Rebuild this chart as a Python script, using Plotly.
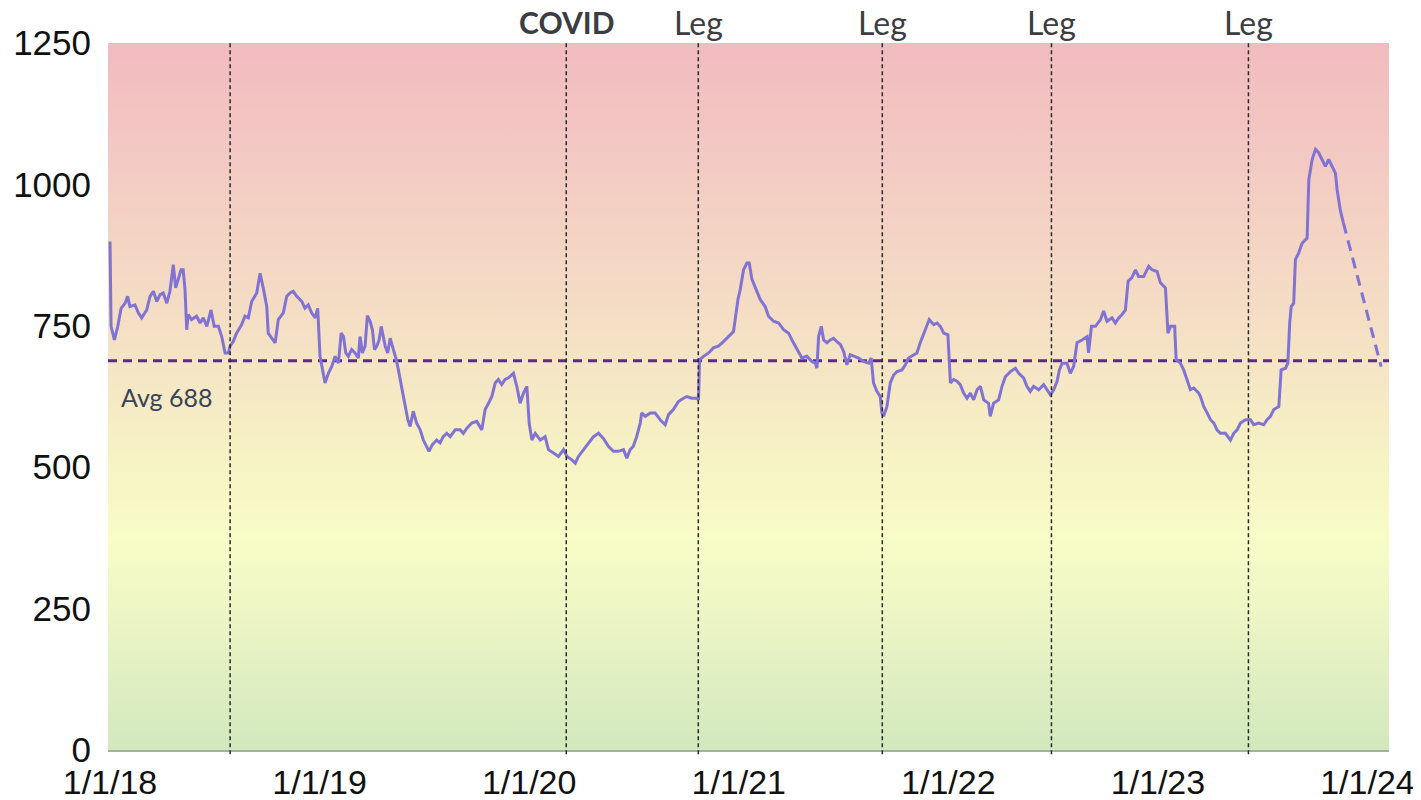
import pandas as pd
import plotly.graph_objects as go

# ---- data (decimal year, value) ----
years = [
    2018.000, 2018.005, 2018.021, 2018.037, 2018.053, 2018.072, 2018.084, 2018.095, 2018.119, 2018.135,
    2018.151, 2018.175, 2018.191, 2018.207, 2018.223, 2018.239, 2018.254, 2018.271, 2018.286, 2018.302,
    2018.313, 2018.326, 2018.339, 2018.349, 2018.358, 2018.366, 2018.373, 2018.389, 2018.413, 2018.430,
    2018.445, 2018.462, 2018.482, 2018.497, 2018.517, 2018.533, 2018.549, 2018.565, 2018.573, 2018.588,
    2018.604, 2018.628, 2018.644, 2018.660, 2018.676, 2018.700, 2018.716, 2018.731, 2018.748, 2018.755,
    2018.771, 2018.788, 2018.803, 2018.827, 2018.843, 2018.859, 2018.874, 2018.891, 2018.915, 2018.930,
    2018.946, 2018.962, 2018.979, 2018.991, 2019.002, 2019.018,
    2019.026, 2019.042, 2019.058, 2019.074, 2019.090, 2019.103, 2019.114, 2019.125, 2019.137, 2019.153,
    2019.169, 2019.185, 2019.193, 2019.204, 2019.217, 2019.228, 2019.241, 2019.252, 2019.262, 2019.273,
    2019.284, 2019.294, 2019.305, 2019.313, 2019.325, 2019.337, 2019.352, 2019.364, 2019.376, 2019.392,
    2019.408, 2019.421, 2019.432, 2019.447, 2019.463, 2019.480, 2019.495, 2019.512, 2019.522, 2019.538,
    2019.559, 2019.575, 2019.590, 2019.607, 2019.623, 2019.647, 2019.671, 2019.686, 2019.703, 2019.726,
    2019.750, 2019.774, 2019.790, 2019.806, 2019.822, 2019.838, 2019.853, 2019.869, 2019.885, 2019.901,
    2019.925, 2019.941, 2019.957, 2019.973, 2019.989, 2020.000, 2020.013, 2020.029, 2020.053,
    2020.076, 2020.092, 2020.116, 2020.140, 2020.164, 2020.180, 2020.204, 2020.220, 2020.235, 2020.259,
    2020.283, 2020.307, 2020.331, 2020.354, 2020.378, 2020.402, 2020.426, 2020.450, 2020.466, 2020.482,
    2020.497, 2020.513, 2020.530, 2020.537, 2020.554, 2020.578, 2020.601, 2020.625, 2020.649, 2020.665,
    2020.688, 2020.712, 2020.736, 2020.752, 2020.776, 2020.800, 2020.808, 2020.813, 2020.832, 2020.856,
    2020.879, 2020.903, 2020.927, 2020.951, 2020.975, 2020.983, 2020.996, 2021.007, 2021.023, 2021.039,
    2021.050, 2021.063, 2021.079, 2021.103, 2021.126,
    2021.142, 2021.166, 2021.190, 2021.214, 2021.238, 2021.254, 2021.270, 2021.286, 2021.301, 2021.325,
    2021.349, 2021.365, 2021.373, 2021.381, 2021.394, 2021.405, 2021.421, 2021.437, 2021.452, 2021.468,
    2021.485, 2021.500, 2021.516, 2021.532, 2021.548, 2021.572, 2021.595, 2021.620, 2021.632, 2021.643,
    2021.659, 2021.675, 2021.683, 2021.691, 2021.707, 2021.723, 2021.739, 2021.755, 2021.779, 2021.795,
    2021.810, 2021.834, 2021.850, 2021.866, 2021.890, 2021.909, 2021.930, 2021.946, 2021.962, 2021.978,
    2021.998, 2022.010, 2022.025, 2022.041, 2022.057, 2022.073, 2022.089, 2022.105, 2022.121, 2022.137,
    2022.153, 2022.169,
    2022.192, 2022.200, 2022.216, 2022.240, 2022.256, 2022.272, 2022.296, 2022.320, 2022.336, 2022.359,
    2022.375, 2022.391, 2022.407, 2022.431, 2022.455, 2022.471, 2022.487, 2022.503, 2022.519, 2022.530,
    2022.543, 2022.566, 2022.582, 2022.598, 2022.614, 2022.638, 2022.662, 2022.669, 2022.683, 2022.702,
    2022.726, 2022.741, 2022.757, 2022.781, 2022.797, 2022.813, 2022.829, 2022.845, 2022.858, 2022.876,
    2022.893, 2022.908, 2022.932, 2022.956, 2022.972, 2022.996, 2023.012, 2023.036, 2023.044, 2023.048,
    2023.060, 2023.080, 2023.087, 2023.107, 2023.123, 2023.139, 2023.155, 2023.171, 2023.195,
    2023.203, 2023.219, 2023.235, 2023.251, 2023.267, 2023.282, 2023.298, 2023.322, 2023.346, 2023.362,
    2023.378, 2023.394, 2023.418, 2023.442, 2023.457, 2023.481, 2023.505, 2023.521, 2023.537, 2023.553,
    2023.577, 2023.588, 2023.609, 2023.620, 2023.629, 2023.636, 2023.648, 2023.656, 2023.672, 2023.688,
    2023.712, 2023.720, 2023.736, 2023.752, 2023.767, 2023.783, 2023.799, 2023.815, 2023.831, 2023.847,
    2023.855, 2023.862, 2023.870, 2023.885,
]
values = [
    899, 749, 725, 749, 781, 790, 802, 784, 787, 773,
    764, 778, 802, 811, 793, 805, 808, 790, 811, 858,
    817, 832, 849, 849, 814, 743, 770, 761, 767, 755,
    764, 749, 778, 749, 749, 731, 702, 702, 714, 722,
    737, 752, 767, 764, 793, 808, 843, 817, 784, 737,
    728, 720, 761, 773, 802, 808, 811, 802, 793, 781,
    787, 773, 764, 781, 696, 660,
    649, 666, 678, 696, 684, 737, 731, 702, 696, 708,
    702, 693, 731, 702, 714, 768, 758, 743, 708, 714,
    725, 749, 731, 714, 702, 728, 708, 693, 672, 643,
    613, 584, 572, 599, 578, 566, 548, 537, 528, 540,
    548, 543, 554, 560, 554, 566, 566, 560, 569, 578,
    581, 566, 602, 613, 625, 649, 655, 646, 655, 658,
    666, 643, 613, 631, 643, 578, 548, 560, 548,
    554, 531, 525, 519, 531, 519, 513, 507, 519, 531,
    543, 554, 560, 551, 537, 528, 528, 531, 516, 531,
    537, 554, 578, 596, 590, 596, 596, 584, 575, 593,
    602, 616, 622, 625, 622, 622, 619, 690, 696, 702,
    711, 714, 722, 731, 740, 761, 796, 814, 849, 861,
    861, 832, 817, 796, 784,
    767, 758, 755, 743, 737, 725, 714, 702, 693, 696,
    687, 684, 675, 731, 749, 725, 720, 725, 728, 722,
    717, 705, 681, 699, 696, 693, 687, 684, 693, 649,
    634, 625, 596, 590, 607, 649, 663, 669, 672, 681,
    693, 699, 702, 720, 743, 761, 752, 755, 749, 737,
    734, 649, 655, 652, 646, 631, 622, 631, 619, 637,
    643, 619,
    613, 590, 613, 619, 643, 660, 669, 675, 666, 658,
    643, 634, 643, 637, 646, 637, 628, 637, 652, 672,
    684, 684, 666, 678, 720, 725, 731, 702, 749, 749,
    761, 776, 758, 764, 755, 764, 770, 778, 829, 835,
    849, 837, 837, 855, 849, 846, 826, 817, 773, 737,
    749, 749, 690, 684, 672, 655, 637, 640, 631,
    625, 607, 596, 584, 578, 566, 560, 560, 548, 560,
    566, 578, 584, 584, 575, 578, 575, 584, 590, 602,
    607, 672, 675, 684, 755, 784, 790, 867, 879, 896,
    905, 1008, 1044, 1062, 1056, 1044, 1032, 1044, 1032, 1020,
    991, 973, 955, 932,
]
projection_years = [2023.885, 2024.065]
projection_values = [932, 678]

average = 688
event_years = [2018.573, 2020.177, 2020.807, 2021.685, 2022.492, 2023.432]
event_labels = ["", "COVID", "Leg", "Leg", "Leg", "Leg"]
tick_years = [2018, 2019, 2020, 2021, 2022, 2023, 2024]
tick_labels = ["1/1/18", "1/1/19", "1/1/20", "1/1/21", "1/1/22", "1/1/23", "1/1/24"]
y_ticks = [0, 250, 500, 750, 1000, 1250]


def to_date(y):
    return pd.Timestamp("2018-01-01") + pd.to_timedelta((y - 2018) * 365.25, unit="D")


dates = [to_date(y) for y in years]
proj_dates = [to_date(y) for y in projection_years]
event_dates = [to_date(y) for y in event_years]
tick_dates = [to_date(y) for y in tick_years]

x0 = pd.Timestamp("2017-12-28 12:00")
x1 = pd.Timestamp("2024-02-08")
y_max = 1250

fig = go.Figure()

# gradient background
fig.add_trace(go.Scatter(
    x=[x0, x1, x1, x0, x0], y=[0, 0, y_max, y_max, 0],
    mode="lines", line=dict(width=0), fill="toself",
    fillgradient=dict(
        type="vertical", start=0, stop=y_max,
        colorscale=[
            [0.0, "#d2e9bd"], [0.1, "#e0efc2"], [0.2, "#eef6c5"], [0.3, "#f8fcc7"],
            [0.42, "#f6f2c4"], [0.55, "#f5e4c5"], [0.7, "#f4d6c4"], [0.85, "#f3c8c3"],
            [1.0, "#f2bbbf"],
        ],
    ),
    hoverinfo="skip", showlegend=False,
))

# average line
fig.add_trace(go.Scatter(
    x=[x0, x1], y=[average, average], mode="lines",
    line=dict(color="#5a2a8c", width=3, dash="9px,6px"),
    hoverinfo="skip", showlegend=False,
))

# main series
fig.add_trace(go.Scatter(
    x=dates, y=values, mode="lines",
    line=dict(color="#8073d3", width=3),
    showlegend=False,
))

# projection
fig.add_trace(go.Scatter(
    x=proj_dates, y=projection_values, mode="lines",
    line=dict(color="#8073d3", width=3, dash="11px,7px"),
    showlegend=False,
))

for d, lab in zip(event_dates, event_labels):
    fig.add_shape(type="line", x0=d, x1=d, y0=-0.006, y1=1, xref="x", yref="paper",
                  line=dict(color="#2a2a2a", width=1.5, dash="4px,3px"), layer="above")
    if lab:
        fig.add_annotation(
            x=d, y=1, xref="x", yref="paper", text=lab, showarrow=False,
            yanchor="middle", yshift=21,
            font=dict(family="Lato", size=30 if lab == "COVID" else 32,
                      color="#3b3d42", weight="bold" if lab == "COVID" else "normal"),
        )

fig.add_annotation(
    x=x0, y=average, xref="x", yref="y", text="Avg 688", showarrow=False,
    xanchor="left", yanchor="middle", xshift=11, yshift=-36,
    font=dict(family="Lato", size=25, color="#3a4358"),
)

# the page adds an 8px body margin, so the figure is offset by 8px inside the window
fig.update_layout(
    width=1413, height=792,
    margin=dict(l=100, r=32, t=35, b=50, autoexpand=False),
    paper_bgcolor="white", plot_bgcolor="white",
    showlegend=False,
    xaxis=dict(
        range=[x0, x1], tickvals=tick_dates, ticktext=tick_labels, automargin=False,
        showgrid=False, zeroline=False, showline=True, linecolor="#a7b09c", linewidth=2,
        ticks="", ticklabelstandoff=1, ticklabeloverflow="allow",
        tickfont=dict(family="Liberation Sans, Arial", size=34, color="#111111"),
    ),
    yaxis=dict(
        range=[0, y_max], tickvals=y_ticks, automargin=False,
        showgrid=True, gridcolor="rgba(140,110,90,0.22)", gridwidth=1, zeroline=False,
        ticks="", ticklabelstandoff=16,
        tickfont=dict(family="Liberation Sans, Arial", size=35, color="#111111"),
    ),
)

fig.write_html("out.html")
